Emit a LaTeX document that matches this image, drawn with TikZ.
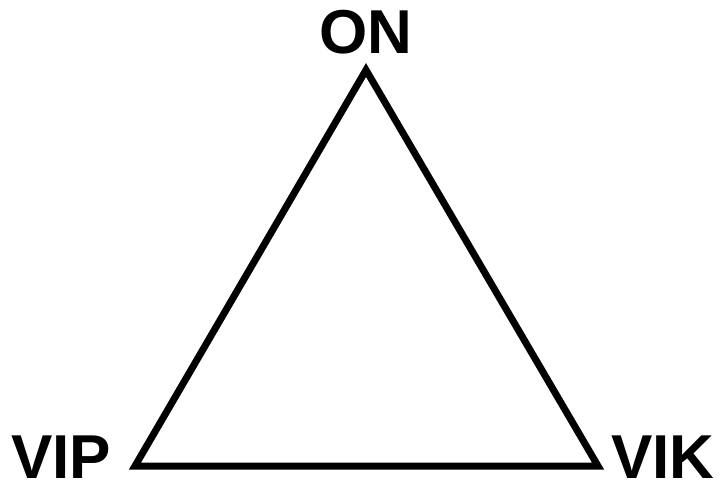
\documentclass[tikz,border=0pt]{standalone}
\usepackage{fontspec}
\setmainfont{Liberation Sans}
\usetikzlibrary{positioning}

\begin{document}
\begin{tikzpicture}[x=1pt,y=-1pt, every node/.style={font=\fontsize{62}{62}\selectfont\bfseries, inner sep=0pt, text depth=0pt}]
  \useasboundingbox (0,0) rectangle (720,492);
  \coordinate (top) at (366,70);
  \coordinate (left) at (135,466);
  \coordinate (right) at (598,466);
  \node[anchor=base] (on) at (366,54) {ON};
  \node[anchor=base] (vip) at (61,478) {VIP};
  \node[anchor=base] (vik) at (663,478) {VIK};

  \draw[line width=7pt,line join=miter](top)--(right)--(left)--cycle;
\end{tikzpicture}
\end{document}
